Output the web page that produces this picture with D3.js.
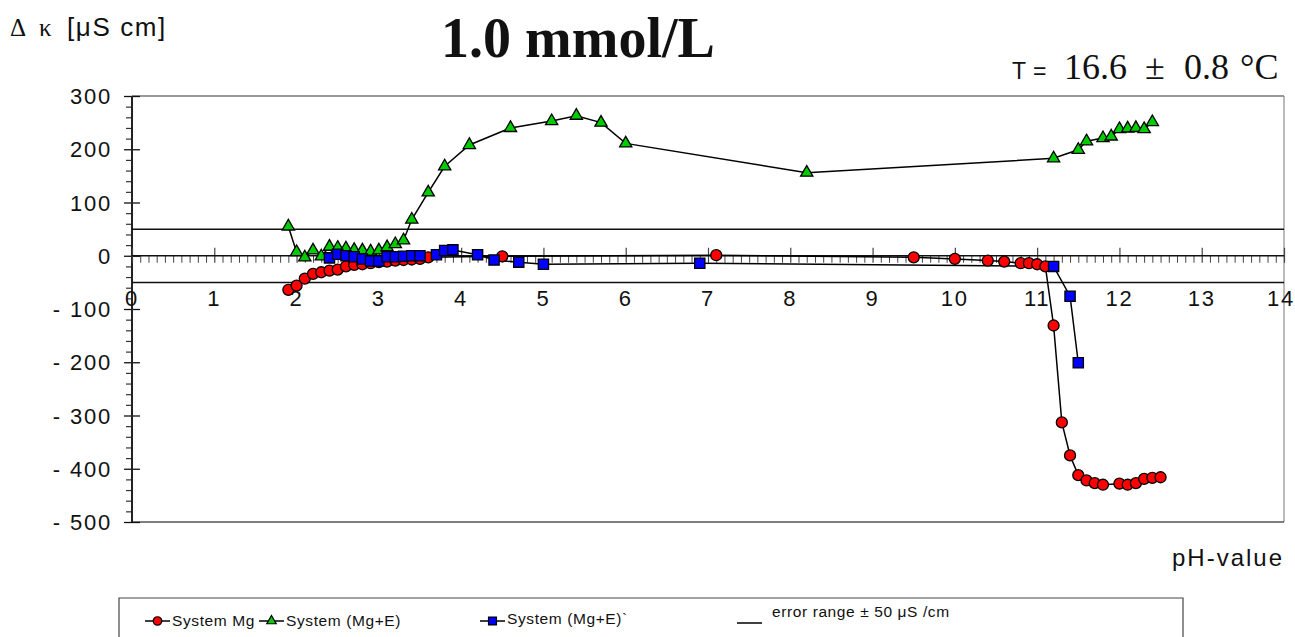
<!DOCTYPE html>
<html>
<head>
<meta charset="utf-8">
<script src="https://cdn.jsdelivr.net/npm/d3@7"></script>
<style>
  body { margin: 0; background: #fff; }
  svg { display: block; }
  .tick-label { font-family: "Liberation Sans", Arial, sans-serif; font-size: 22px; letter-spacing: 1.8px; fill: #111; }
  .legend-text { font-family: "Liberation Sans", Arial, sans-serif; font-size: 15.5px; letter-spacing: 0.6px; fill: #111; }
</style>
</head>
<body>
<svg id="chart" width="1295" height="637"></svg>
<script>
// pH / delta kappa readings, System Mg
const phMg = [1.9, 2.0, 2.1, 2.2, 2.3, 2.4, 2.5, 2.6, 2.7, 2.8, 2.9, 3.0, 3.1, 3.2, 3.3, 3.4, 3.5, 3.6,
              4.5, 7.1, 9.5, 10.0, 10.4, 10.6, 10.8, 10.9, 11.0, 11.1, 11.2, 11.3, 11.4, 11.5, 11.6,
              11.7, 11.8, 12.0, 12.1, 12.2, 12.3, 12.4, 12.5];
const kMg = [-64, -56, -43, -34, -31, -28, -26, -20, -17, -16, -14, -12, -11, -9, -8, -7, -6, -3,
             -1, 1, -3, -6, -9, -11, -14, -14, -16, -20, -131, -313, -375, -412, -422,
             -427, -430, -428, -430, -427, -419, -417, -416];

// System (Mg+E)
const phE = [1.9, 2.0, 2.1, 2.2, 2.3, 2.4, 2.5, 2.6, 2.7, 2.8, 2.9, 3.0, 3.1, 3.2, 3.3, 3.4, 3.6, 3.8,
             4.1, 4.6, 5.1, 5.4, 5.7, 6.0, 8.2, 11.2, 11.5, 11.6, 11.8, 11.9, 12.0, 12.1, 12.2, 12.3, 12.4];
const kE = [55, 7, -3, 10, -1, 17, 15, 14, 11, 10, 8, 10, 16, 22, 29, 68, 119, 168,
            208, 240, 253, 263, 250, 211, 156, 183, 199, 215, 221, 224, 238, 239, 240, 238, 251];

// System (Mg+E)`
const phE2 = [2.4, 2.5, 2.6, 2.7, 2.8, 2.9, 3.0, 3.1, 3.2, 3.3, 3.4, 3.5, 3.7, 3.8, 3.9,
              4.2, 4.4, 4.7, 5.0, 6.9, 11.2, 11.4, 11.5];
const kE2 = [-4, 3, 0, -2, -6, -10, -10, -2, -2, -1, 0, 0, 2, 10, 11,
             2, -8, -12, -16, -14, -20, -76, -201];

const errorRange = [50, -50];
const xTicks = d3.range(0, 15);
const yTicks = [300, 200, 100, 0, -100, -200, -300, -400, -500];
const yTickLabels = ["300", "200", "100", "0", "- 100", "- 200", "- 300", "- 400", "- 500"];

const svg = d3.select("#chart");
const plotL = 132, plotR = 1284, plotT = 96, plotB = 522;

const x = d3.scaleLinear().domain([0, 14]).range([plotL, plotR]);
const y = d3.scaleLinear().domain([-500, 300]).range([plotB, plotT]);

// frame
svg.append("line").attr("x1", plotL).attr("x2", plotR).attr("y1", plotT).attr("y2", plotT)
  .attr("stroke", "#777").attr("stroke-width", 1.5);
svg.append("line").attr("x1", plotR).attr("x2", plotR).attr("y1", plotT).attr("y2", plotB)
  .attr("stroke", "#777").attr("stroke-width", 1);
svg.append("line").attr("x1", plotL).attr("x2", plotR).attr("y1", plotB).attr("y2", plotB)
  .attr("stroke", "#555").attr("stroke-width", 1.5);

// y axis: minor ticks outside, major ticks crossing
const yMinor = d3.range(-500, 301, 20).filter(v => v % 100 !== 0);
svg.append("g").attr("transform", "translate(" + plotL + ",0)")
  .call(d3.axisLeft(y).tickValues(yMinor).tickSize(6).tickFormat(""))
  .call(g => g.select(".domain").remove())
  .selectAll("line").attr("stroke", "#333").attr("stroke-width", 1.2);
svg.append("g").attr("transform", "translate(" + (plotL + 8) + ",0)")
  .call(d3.axisLeft(y).tickValues(yTicks).tickSize(16).tickFormat(""))
  .call(g => g.select(".domain").remove())
  .selectAll("line").attr("stroke", "#111").attr("stroke-width", 1.3);
svg.append("line").attr("x1", plotL).attr("x2", plotL).attr("y1", plotT).attr("y2", plotB)
  .attr("stroke", "#222").attr("stroke-width", 2);

svg.selectAll(".ylab").data(yTicks).enter().append("text")
  .attr("class", "tick-label")
  .attr("x", 112).attr("y", d => y(d) + 8)
  .attr("text-anchor", "end")
  .text((d, i) => yTickLabels[i]);

// x axis at zero
const xMinor = d3.range(0, 140).map(i => i / 10).filter((v, i) => i % 10 !== 0);
svg.append("g").attr("transform", "translate(0," + y(0) + ")")
  .call(d3.axisBottom(x).tickValues(xMinor).tickSize(7).tickFormat(""))
  .call(g => g.select(".domain").remove())
  .selectAll("line").attr("stroke", "#444").attr("stroke-width", 1);
svg.append("g").attr("transform", "translate(0," + (y(0) - 8) + ")")
  .call(d3.axisBottom(x).tickValues(xTicks).tickSize(15).tickFormat(""))
  .call(g => g.select(".domain").remove())
  .selectAll("line").attr("stroke", "#444").attr("stroke-width", 1.2);
svg.append("line").attr("x1", plotL).attr("x2", plotR).attr("y1", y(0)).attr("y2", y(0))
  .attr("stroke", "#111").attr("stroke-width", 1.5);

// error range lines
svg.selectAll(".err").data(errorRange).enter().append("line")
  .attr("x1", plotL).attr("x2", plotR)
  .attr("y1", d => y(d)).attr("y2", d => y(d))
  .attr("stroke", "#111").attr("stroke-width", 1.5);

svg.selectAll(".xlab").data(xTicks).enter().append("text")
  .attr("class", "tick-label")
  .attr("x", d => d === 14 ? x(d) - 3 : x(d)).attr("y", 306)
  .attr("text-anchor", "middle")
  .text(d => d);

// series
const series = [
  { ph: phMg, k: kMg, color: "#ff0000", shape: d3.symbolCircle, size: 95 },
  { ph: phE, k: kE, color: "#00cc00", shape: d3.symbolTriangle, size: 65 },
  { ph: phE2, k: kE2, color: "#0000ff", shape: d3.symbolSquare, size: 105 }
];

const line = d3.line().x(d => x(d[0])).y(d => y(d[1]));
series.forEach(s => {
  const pts = s.ph.map((p, i) => [p, s.k[i]]);
  svg.append("path").datum(pts).attr("d", line)
    .attr("fill", "none").attr("stroke", "#000").attr("stroke-width", 1.5);
});
series.forEach(s => {
  const pts = s.ph.map((p, i) => [p, s.k[i]]);
  svg.append("g").selectAll("path").data(pts).enter().append("path")
    .attr("transform", d => "translate(" + x(d[0]) + "," + y(d[1]) + ")")
    .attr("d", d3.symbol().type(s.shape).size(s.size))
    .attr("fill", s.color).attr("stroke", "#000").attr("stroke-width", 1.3);
});

// titles
const sans = "'Liberation Sans', Arial, sans-serif";
const serif = "'Liberation Serif', 'Times New Roman', serif";

svg.append("text").attr("x", 10).attr("y", 36).attr("fill", "#111")
  .style("font-family", serif).style("font-size", "25px").text("Δ");
svg.append("text").attr("x", 39).attr("y", 36).attr("fill", "#111")
  .style("font-family", serif).style("font-size", "25px").text("κ");
svg.append("text").attr("x", 67).attr("y", 36).attr("fill", "#111")
  .style("font-family", sans).style("font-size", "26px").style("letter-spacing", "1.6px")
  .text("[μS cm]");

svg.append("text").attr("x", 578).attr("y", 57).attr("text-anchor", "middle")
  .style("font-family", serif)
  .style("font-weight", "bold").style("font-size", "56px").attr("fill", "#111")
  .text("1.0 mmol/L");

const tParts = [
  { t: "T", x: 1012, f: sans, s: 23 },
  { t: "=", x: 1033, f: sans, s: 23 },
  { t: "16.6", x: 1064, f: serif, s: 36 },
  { t: "±", x: 1145, f: serif, s: 36 },
  { t: "0.8", x: 1184, f: serif, s: 36 },
  { t: "°C", x: 1240, f: serif, s: 36 }
];
svg.selectAll(".tpart").data(tParts).enter().append("text")
  .attr("x", d => d.x).attr("y", 79).attr("fill", "#111")
  .style("font-family", d => d.f).style("font-size", d => d.s + "px")
  .text(d => d.t);

svg.append("text").attr("x", 1284).attr("y", 566).attr("text-anchor", "end")
  .attr("class", "tick-label").style("font-size", "24px").style("letter-spacing", "2px")
  .text("pH-value");

// legend
const legendX0 = 119, legendX1 = 1183, legendY = 598;
svg.append("path")
  .attr("d", "M" + legendX0 + ",637V" + legendY + "H" + legendX1 + "V637")
  .attr("fill", "none").attr("stroke", "#444").attr("stroke-width", 1.2);

const legendItems = [
  { label: "System Mg", x0: 145, tx: 172, s: series[0], ty: 626 },
  { label: "System (Mg+E)", x0: 259, tx: 286, s: series[1], ty: 626 },
  { label: "System (Mg+E)`", x0: 480, tx: 507, s: series[2], ty: 624 },
  { label: "error range ± 50 μS /cm", x0: 737, tx: 772, s: null, ty: 617 }
];
legendItems.forEach(it => {
  const ly = it.s ? 621 : 623;
  svg.append("line").attr("x1", it.x0).attr("x2", it.x0 + 25).attr("y1", ly).attr("y2", ly)
    .attr("stroke", "#000").attr("stroke-width", 1.5);
  if (it.s) {
    svg.append("path").attr("transform", "translate(" + (it.x0 + 12.5) + "," + ly + ")")
      .attr("d", d3.symbol().type(it.s.shape).size(it.s.size * 0.6))
      .attr("fill", it.s.color).attr("stroke", "#000").attr("stroke-width", 1.2);
  }
  svg.append("text").attr("class", "legend-text").attr("x", it.tx).attr("y", it.ty)
    .text(it.label);
});
</script>
</body>
</html>
